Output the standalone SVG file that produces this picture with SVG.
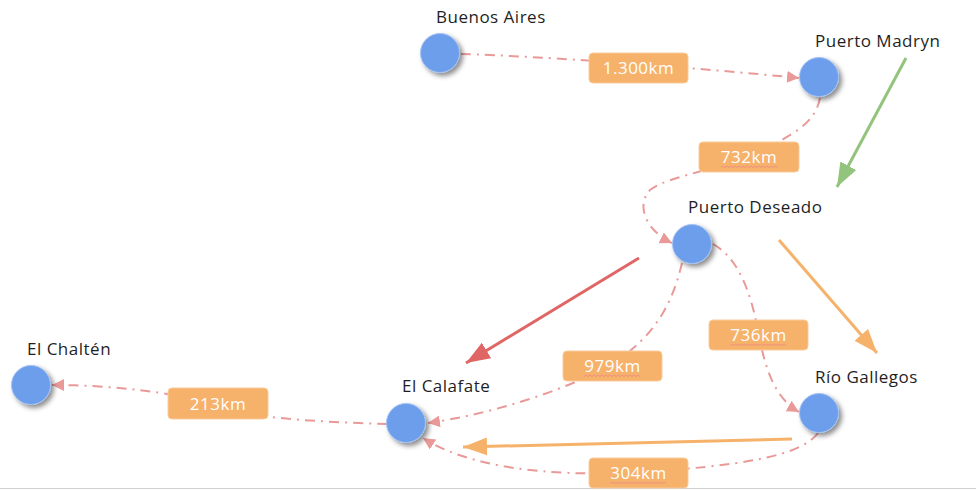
<svg xmlns="http://www.w3.org/2000/svg" width="976" height="490" viewBox="0 0 976 490">
<style>
.node{fill:#6d9eeb;stroke:#a4c2f4;stroke-width:1;filter:url(#sh)}
.nl{font-family:"Open Sans","Noto Sans",sans-serif;font-size:17px;letter-spacing:0.5px;fill:#1f1f1f}
.dc{fill:none;stroke:#ea9999;stroke-width:2;stroke-dasharray:10,6,2,6;marker-end:url(#ad)}
.lb{fill:#f6b26b;stroke:#f9cb9c;stroke-width:1}
.lt{font-family:"Open Sans","Noto Sans",sans-serif;font-size:17px;letter-spacing:0.5px;fill:#ffffff;text-anchor:middle}
.sq{fill:none;stroke:#e88;stroke-width:0.8}
.sa{fill:none;stroke-width:3}
</style>
<defs>
<filter id="sh" x="-50%" y="-50%" width="200%" height="200%">
<feDropShadow dx="3" dy="3" stdDeviation="2.5" flood-color="#000" flood-opacity="0.45"/>
</filter>
<marker id="ad" markerUnits="userSpaceOnUse" markerWidth="14" markerHeight="12" refX="12" refY="6" orient="auto">
<path d="M0,0 L12,6 L0,12 Z" fill="#ea9999"/>
</marker>
<marker id="ag" markerUnits="userSpaceOnUse" markerWidth="26" markerHeight="20" refX="24" refY="10" orient="auto">
<path d="M0,1 L24,10 L0,19 Z" fill="#93c47d"/>
</marker>
<marker id="ao" markerUnits="userSpaceOnUse" markerWidth="26" markerHeight="20" refX="24" refY="10" orient="auto">
<path d="M0,1 L24,10 L0,19 Z" fill="#f6b26b"/>
</marker>
<marker id="ar" markerUnits="userSpaceOnUse" markerWidth="26" markerHeight="20" refX="24" refY="10" orient="auto">
<path d="M0,1 L24,10 L0,19 Z" fill="#e06666"/>
</marker>
</defs>
<rect x="0" y="0" width="976" height="490" fill="#ffffff"/>
<line x1="0" y1="488.5" x2="976" y2="488.5" stroke="#d0d0d0" stroke-width="1"/>

<g id="connectors">
<path class="dc" d="M461,54 C540,56 700,68 799,78"/>
<path class="dc" d="M820,98 C815,125 790,135 760,152 C720,170 670,175 650,190 C636,205 645,230 672,243"/>
<path class="dc" d="M682,263 C672,305 655,335 615,362 C565,392 485,415 428,423"/>
<path class="dc" d="M713,244 C738,258 750,290 758,330 C765,370 775,398 799,412"/>
<path class="dc" d="M818,433 C800,458 730,466 645,472 C540,478 465,465 423,438"/>
<path class="dc" d="M387,424 C320,422 240,418 215,404 C170,392 110,385 52,385"/>
<path class="sa" stroke="#93c47d" marker-end="url(#ag)" d="M906,58 L837,187"/>
<path class="sa" stroke="#f6b26b" marker-end="url(#ao)" d="M779,240 L877,353"/>
<path class="sa" stroke="#e06666" marker-end="url(#ar)" d="M639,258 L466,363"/>
<path class="sa" stroke="#f6b26b" marker-end="url(#ao)" d="M792,439 L463,447"/>
</g>

<g id="label-1300">
<rect class="lb" x="589" y="53" width="99" height="30" rx="4"/>
<text class="lt" x="638.5" y="74">1.300km</text>
</g>
<g id="label-732">
<rect class="lb" x="699" y="142" width="100" height="30" rx="4"/>
<text class="lt" x="749" y="163">732km</text>
<path class="sq" d="M721,167.5 l2,-1.5 l2,1.5 l2,-1.5 l2,1.5 l2,-1.5 l2,1.5 l2,-1.5 l2,1.5 l2,-1.5 l2,1.5 l2,-1.5 l2,1.5 l2,-1.5 l2,1.5 l2,-1.5 l2,1.5 l2,-1.5 l2,1.5 l2,-1.5 l2,1.5 l2,-1.5 l2,1.5 l2,-1.5 l2,1.5 l2,-1.5 l2,1.5 l2,-1.5 l2,1.5"/>
</g>
<g id="label-736">
<rect class="lb" x="709" y="320" width="99" height="30" rx="4"/>
<text class="lt" x="758.5" y="341">736km</text>
<path class="sq" d="M730,345.5 l2,-1.5 l2,1.5 l2,-1.5 l2,1.5 l2,-1.5 l2,1.5 l2,-1.5 l2,1.5 l2,-1.5 l2,1.5 l2,-1.5 l2,1.5 l2,-1.5 l2,1.5 l2,-1.5 l2,1.5 l2,-1.5 l2,1.5 l2,-1.5 l2,1.5 l2,-1.5 l2,1.5 l2,-1.5 l2,1.5 l2,-1.5 l2,1.5 l2,-1.5 l2,1.5"/>
</g>
<g id="label-979">
<rect class="lb" x="563" y="351" width="99" height="30" rx="4"/>
<text class="lt" x="612.5" y="372">979km</text>
<path class="sq" d="M584,376.5 l2,-1.5 l2,1.5 l2,-1.5 l2,1.5 l2,-1.5 l2,1.5 l2,-1.5 l2,1.5 l2,-1.5 l2,1.5 l2,-1.5 l2,1.5 l2,-1.5 l2,1.5 l2,-1.5 l2,1.5 l2,-1.5 l2,1.5 l2,-1.5 l2,1.5 l2,-1.5 l2,1.5 l2,-1.5 l2,1.5 l2,-1.5 l2,1.5 l2,-1.5 l2,1.5"/>
</g>
<g id="label-304">
<rect class="lb" x="589" y="458" width="99" height="30" rx="4"/>
<text class="lt" x="638.5" y="479">304km</text>
<path class="sq" d="M610,483.5 l2,-1.5 l2,1.5 l2,-1.5 l2,1.5 l2,-1.5 l2,1.5 l2,-1.5 l2,1.5 l2,-1.5 l2,1.5 l2,-1.5 l2,1.5 l2,-1.5 l2,1.5 l2,-1.5 l2,1.5 l2,-1.5 l2,1.5 l2,-1.5 l2,1.5 l2,-1.5 l2,1.5 l2,-1.5 l2,1.5 l2,-1.5 l2,1.5 l2,-1.5 l2,1.5"/>
</g>
<g id="label-213">
<rect class="lb" x="168" y="388" width="100" height="31" rx="4"/>
<text class="lt" x="218" y="410">213km</text>
</g>

<g id="node-buenos-aires">
<circle class="node" cx="440" cy="53" r="19.5"/>
<text class="nl" x="436" y="23">Buenos Aires</text>
</g>
<g id="node-puerto-madryn">
<circle class="node" cx="819" cy="77" r="19.5"/>
<text class="nl" x="815" y="47">Puerto Madryn</text>
</g>
<g id="node-puerto-deseado">
<circle class="node" cx="692" cy="244" r="19.5"/>
<text class="nl" x="688" y="213">Puerto Deseado</text>
</g>
<g id="node-el-calafate">
<circle class="node" cx="406" cy="423" r="19.5"/>
<text class="nl" x="402" y="392">El Calafate</text>
</g>
<g id="node-rio-gallegos">
<circle class="node" cx="819" cy="413" r="19.5"/>
<text class="nl" x="815" y="383">Río Gallegos</text>
</g>
<g id="node-el-chalten">
<circle class="node" cx="31" cy="385" r="19.5"/>
<text class="nl" x="27" y="355">El Chaltén</text>
</g>
</svg>
